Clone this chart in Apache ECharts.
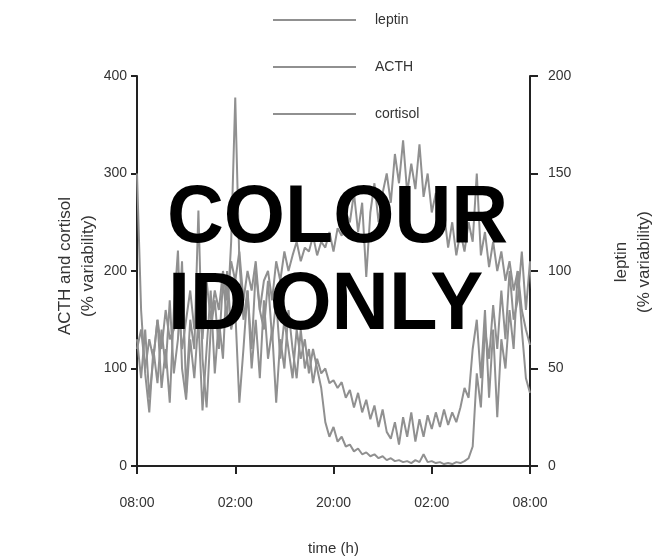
<!DOCTYPE html>
<html>
<head>
<meta charset="utf-8">
<script src="https://cdn.jsdelivr.net/npm/echarts@6/dist/echarts.min.js"></script>
<style>
html,body{margin:0;padding:0;background:#fff;}
#chart{width:661px;height:557px;}
</style>
</head>
<body>
<div id="chart"></div>
<script>
// time grid: hours from start (08:00), sampled every 0.5 h over 48 h
const hourStep = 0.5;
const xTickLabels = ['08:00', '02:00', '20:00', '02:00', '08:00'];
const seriesNames = ['leptin', 'ACTH', 'cortisol'];

// leptin, % variability (right axis)
const leptin = [60,70,50,65,55,75,60,80,65,70,85,60,75,90,70,85,65,95,75,90,80,100,85,105,95,110,85,100,90,105,80,95,100,85,105,95,110,100,108,115,105,112,110,118,108,115,112,120,110,122,118,130,125,140,120,135,97,130,145,125,140,150,135,160,145,167,140,155,142,165,138,150,130,140,118,130,112,125,108,120,110,125,115,150,108,120,102,115,100,110,95,105,90,100,80,70,62];

// ACTH, % variability (left axis)
const acth = [130,90,140,70,110,150,80,120,65,160,221,100,68,130,90,150,57,120,180,95,150,110,200,140,160,65,120,180,100,150,90,170,110,140,65,130,100,160,120,90,140,100,120,85,110,95,100,85,88,80,86,70,78,60,75,55,68,48,62,40,58,35,28,45,22,50,30,55,25,48,30,52,38,55,40,58,42,55,45,60,80,70,120,150,90,160,70,140,50,130,100,160,120,200,140,90,75];

// cortisol, % variability (left axis)
const cortisol = [300,160,95,55,120,85,140,100,170,95,130,210,75,150,120,262,110,60,140,170,120,190,150,230,378,210,150,180,120,200,160,140,190,130,170,110,150,120,90,140,110,130,95,120,100,80,45,30,40,25,30,20,22,15,18,12,14,10,12,8,10,6,8,5,6,4,5,3,6,4,12,4,5,3,4,2,3,2,4,3,5,8,20,95,60,140,110,165,120,180,130,200,150,170,220,160,210,150,100];

function toPairs(arr){ return arr.map((v,i)=>[i*hourStep, v]); }

const lineColor = '#909090';
const axisColor = '#222222';
const textColor = '#333333';
const fontFam = '"Liberation Sans", Arial, sans-serif';

const chart = echarts.init(document.getElementById('chart'));
chart.setOption({
  animation: false,
  backgroundColor: '#ffffff',
  textStyle: {fontFamily: fontFam},
  legend: {
    orient: 'vertical',
    left: 268,
    top: 8,
    icon: 'rect',
    itemWidth: 83,
    itemHeight: 2,
    itemGap: 33,
    data: seriesNames,
    itemStyle: {color: lineColor},
    textStyle: {color: textColor, fontSize: 14, lineHeight: 14, fontFamily: fontFam, padding: [0,0,0,14]}
  },
  grid: {left: 137, right: 131, top: 76, bottom: 91, containLabel: false, outerBoundsMode: 'none'},
  xAxis: {
    type: 'value',
    min: 0, max: 48, interval: 12,
    name: 'time (h)',
    nameLocation: 'middle',
    nameGap: 75,
    nameMoveOverlap: false,
    nameTextStyle: {color: textColor, fontSize: 15, fontFamily: fontFam},
    axisLine: {show: true, onZero: false, lineStyle: {color: axisColor, width: 2}},
    axisTick: {show: true, length: 8, lineStyle: {color: axisColor, width: 2}},
    axisLabel: {color: textColor, fontSize: 14, margin: 30, fontFamily: fontFam,
      formatter: function(v){ return xTickLabels[Math.round(v/12)]; }},
    splitLine: {show: false}
  },
  yAxis: [
    {
      type: 'value', position: 'left',
      min: 0, max: 400, interval: 100,
      name: 'ACTH and cortisol\n(% variability)',
      nameLocation: 'middle',
      nameRotate: 90,
      nameGap: 37,
      nameMoveOverlap: false,
      nameTextStyle: {color: textColor, fontSize: 17, lineHeight: 23, fontFamily: fontFam, padding: [0,0,0,10]},
      axisLine: {show: true, lineStyle: {color: axisColor, width: 2}},
      axisTick: {show: true, length: 6, lineStyle: {color: axisColor, width: 2}},
      axisLabel: {color: textColor, fontSize: 14, margin: 10, fontFamily: fontFam},
      splitLine: {show: false}
    },
    {
      type: 'value', position: 'right',
      min: 0, max: 200, interval: 50,
      name: 'leptin\n(% variability)',
      nameLocation: 'middle',
      nameRotate: 90,
      nameGap: 80,
      nameMoveOverlap: false,
      nameTextStyle: {color: textColor, fontSize: 17, lineHeight: 23, fontFamily: fontFam, padding: [0,0,0,18]},
      axisLine: {show: true, lineStyle: {color: axisColor, width: 2}},
      axisTick: {show: true, length: 8, lineStyle: {color: axisColor, width: 2}},
      axisLabel: {color: textColor, fontSize: 14, margin: 18, fontFamily: fontFam},
      splitLine: {show: false}
    }
  ],
  series: [
    {name: 'leptin', type: 'line', yAxisIndex: 1, data: toPairs(leptin), symbol: 'none',
     lineStyle: {color: lineColor, width: 2}, itemStyle: {color: lineColor}},
    {name: 'ACTH', type: 'line', yAxisIndex: 0, data: toPairs(acth), symbol: 'none',
     lineStyle: {color: lineColor, width: 2}, itemStyle: {color: lineColor}},
    {name: 'cortisol', type: 'line', yAxisIndex: 0, data: toPairs(cortisol), symbol: 'none',
     lineStyle: {color: lineColor, width: 2}, itemStyle: {color: lineColor}}
  ],
  graphic: [
    {type: 'text', x: 167, y: 219, z: 100, scaleX: 0.96,
     style: {text: 'COLOUR', fill: '#000', font: 'bold 82px "Liberation Sans", Arial, sans-serif', textAlign: 'left', textVerticalAlign: 'middle'}},
    {type: 'text', x: 168, y: 306, z: 100, scaleX: 0.97,
     style: {text: 'ID ONLY', fill: '#000', font: 'bold 82px "Liberation Sans", Arial, sans-serif', textAlign: 'left', textVerticalAlign: 'middle'}}
  ]
});
</script>
</body>
</html>
